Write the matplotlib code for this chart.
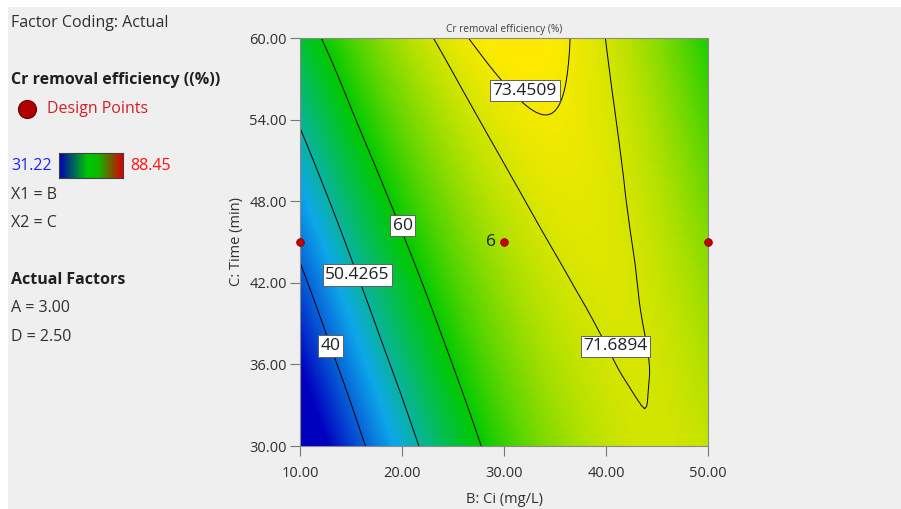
import numpy as np
import matplotlib
matplotlib.use("Agg")
import matplotlib.pyplot as plt
import matplotlib.tri as mtri
from matplotlib.colors import LinearSegmentedColormap
from matplotlib.patches import Rectangle

plt.rcParams['font.family'] = ['Open Sans', 'Noto Sans', 'DejaVu Sans']

# B: Ci (mg/L) and C: Time (min) grid
ci = [10, 15, 20, 25, 30, 35, 40, 45, 50]
time = [30, 35, 40, 45, 50, 55, 60]
# Cr removal efficiency (%), one row per time value
eff = [
    [24.33, 36.79, 47.36, 56.02, 62.79, 67.65, 70.62, 71.68, 70.84],
    [30.35, 41.94, 51.63, 59.42, 65.31, 69.30, 71.39, 71.58, 69.87],
    [36.13, 46.84, 55.66, 62.58, 67.59, 70.71, 71.92, 71.24, 68.66],
    [41.66, 51.50, 59.45, 65.49, 69.63, 71.87, 72.22, 70.66, 67.20],
    [46.96, 55.93, 63.00, 68.16, 71.43, 72.80, 72.27, 69.84, 65.50],
    [52.02, 60.11, 66.30, 70.60, 72.99, 73.49, 72.08, 68.77, 63.57],
    [56.83, 64.05, 69.37, 72.79, 74.31, 73.93, 71.65, 67.47, 61.39],
]
levels = [40, 50.4265, 60, 71.6894, 73.4509]
label_pos = [(13.0, 37.35), (15.64, 42.57), (20.05, 46.2), (40.93, 37.32), (32.04, 56.12)]
design_ci = [10, 30, 50]
design_time = [45, 45, 45]
center_runs = 6
z_min, z_max = 31.22, 88.45

W, H = 901, 509
def fx(x):
    return x / W
def fy(y):
    return 1 - y / H

fig = plt.figure(figsize=(W / 100, H / 100), dpi=100)
fig.patch.set_facecolor('white')
fig.patches.append(Rectangle((fx(8), 0), 1 - fx(8), fy(7), transform=fig.transFigure,
                             facecolor='#efefef', edgecolor='none', zorder=-10))

cmap = LinearSegmentedColormap.from_list('de', [
    (0.0, (0.0, 0.0, 0.75)),
    (0.26, (0.05, 0.66, 0.92)),
    (0.5, (0.0, 0.79, 0.0)),
    (0.75, (1.0, 0.92, 0.0)),
    (1.0, (0.86, 0.0, 0.0)),
])

ax = fig.add_axes([fx(300), fy(446), 408 / W, 408 / H])
BB, CC = np.meshgrid(ci, time)
z = np.array(eff).ravel()
tri = mtri.Triangulation(BB.ravel(), CC.ravel())
interp = mtri.CubicTriInterpolator(tri, z, kind='min_E')
tri_f, z_f = mtri.UniformTriRefiner(tri).refine_field(z, triinterpolator=interp, subdiv=4)
ax.tripcolor(tri_f, z_f, shading='gouraud', cmap=cmap, vmin=z_min, vmax=z_max)
ax.tricontour(tri_f, z_f, levels, colors='black', linewidths=0.7)

for lev, (bx, cy) in zip(levels, label_pos):
    ax.text(bx, cy, f"{lev:g}", fontsize=12.5, ha='center', va='center', color='#202020',
            bbox=dict(boxstyle='square,pad=0.15', fc='white', ec='#606060', lw=0.7), zorder=5)

ax.plot(design_ci, design_time, 'o', ms=5.5, mfc='#c80000', mec='#800000', mew=0.6,
        clip_on=False, zorder=6)
ax.annotate(str(center_runs), (design_ci[1], design_time[1]), xytext=(-6, 0),
            textcoords='offset points', ha='right', va='center', fontsize=12.5, color='#202020')

ax.set_xlim(10, 50)
ax.set_ylim(30, 60)
ax.set_xticks([10, 20, 30, 40, 50])
ax.set_yticks([30, 36, 42, 48, 54, 60])
ax.xaxis.set_major_formatter(lambda v, p: f"{v:.2f}")
ax.yaxis.set_major_formatter(lambda v, p: f"{v:.2f}")
ax.tick_params(axis='both', direction='out', length=7.5, width=0.8, color='#777777',
               labelsize=10.5, labelcolor='#303030')
ax.tick_params(axis='x', pad=7)
ax.tick_params(axis='y', pad=2)
for s in ax.spines.values():
    s.set_color('#8a8a8a')
    s.set_linewidth(0.8)
ax.set_xlabel('B: Ci (mg/L)', fontsize=10.5, color='#303030', labelpad=7.5)
ax.set_ylabel('C: Time (min)', fontsize=10.5, color='#303030', labelpad=4)
ax.set_title('Cr removal efficiency (%)', fontsize=7.3, color='#404040', pad=4)

# left-hand legend panel
fs = 11.5
fig.text(fx(11), fy(23), 'Factor Coding: Actual', fontsize=fs, color='#303030', va='center')
fig.text(fx(11), fy(80), 'Cr removal efficiency ((%))', fontsize=fs, fontweight='bold',
         color='#202020', va='center')
fig.lines.append(plt.Line2D([fx(27)], [fy(109)], marker='o', ms=13, mfc='#b00000',
                            mec='#700000', mew=0.8, transform=fig.transFigure))
fig.text(fx(47), fy(109), 'Design Points', fontsize=fs, color='#d0202a', va='center')
fig.text(fx(11), fy(166), f"{z_min:.2f}", fontsize=fs, color='#2020ff', va='center')
fig.text(fx(130), fy(166), f"{z_max:.2f}", fontsize=fs, color='#ff1010', va='center')
cax = fig.add_axes([fx(59), fy(177.5), 64 / W, 25 / H])
bar_cmap = LinearSegmentedColormap.from_list('bar', [
    (0.0, (0.0, 0.0, 0.7)), (0.45, (0.0, 0.78, 0.0)), (0.62, (0.05, 0.72, 0.0)),
    (1.0, (0.85, 0.0, 0.0))])
cax.imshow(np.linspace(0, 1, 128)[None, :], aspect='auto', cmap=bar_cmap)
cax.set_xticks([])
cax.set_yticks([])
for s in cax.spines.values():
    s.set_color('#404040')
    s.set_linewidth(0.8)
fig.text(fx(11), fy(195), 'X1 = B', fontsize=fs, color='#303030', va='center')
fig.text(fx(11), fy(223), 'X2 = C', fontsize=fs, color='#303030', va='center')
fig.text(fx(11), fy(280), 'Actual Factors', fontsize=fs, fontweight='bold', color='#202020',
         va='center')
fig.text(fx(11), fy(308), 'A = 3.00', fontsize=fs, color='#303030', va='center')
fig.text(fx(11), fy(337), 'D = 2.50', fontsize=fs, color='#303030', va='center')

fig.savefig('out.png', dpi=100)
